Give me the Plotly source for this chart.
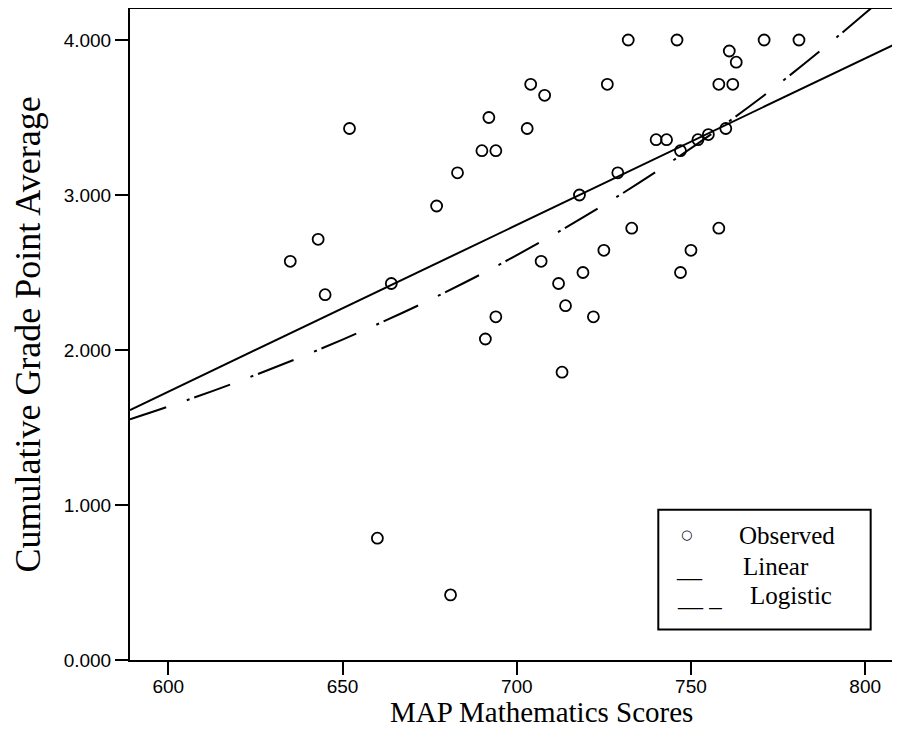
import plotly.graph_objects as go

map_scores = [635, 643, 645, 652, 660, 664, 677, 681, 683, 690, 692, 694, 694, 691,
              703, 704, 708, 707, 712, 713, 714, 718, 719, 722, 725, 726, 729, 732,
              733, 740, 743, 746, 747, 747, 750, 752, 755, 758, 758, 760, 761, 762,
              763, 771, 781]
gpa = [2.572, 2.714, 2.357, 3.429, 0.786, 2.429, 2.929, 0.420, 3.143, 3.286, 3.500,
       3.286, 2.214, 2.071, 3.429, 3.714, 3.643, 2.572, 2.429, 1.857, 2.286, 3.000,
       2.500, 2.214, 2.643, 3.714, 3.143, 4.000, 2.786, 3.357, 3.357, 4.000, 3.286,
       2.500, 2.643, 3.357, 3.390, 3.714, 2.786, 3.429, 3.929, 3.714, 3.857, 4.000,
       4.000]

# Fitted curves, values
linear_x = [589, 810]
linear_y = [1.613, 3.989]
logistic_x = [589, 600, 620, 650, 680, 710, 740, 770, 800, 810]
logistic_y = [1.553, 1.635, 1.796, 2.067, 2.378, 2.737, 3.150, 3.626, 4.172, 4.373]

x_ticks = [600, 650, 700, 750, 800]
y_ticks = [0, 1, 2, 3, 4]

fig = go.Figure()
fig.add_trace(go.Scatter(
    x=map_scores, y=gpa, mode="markers", name="Observed",
    marker=dict(symbol="circle-open", size=11, color="black",
                line=dict(width=1.8, color="black"))))
fig.add_trace(go.Scatter(
    x=linear_x, y=linear_y, mode="lines", name="Linear",
    line=dict(color="black", width=2)))
fig.add_trace(go.Scatter(
    x=logistic_x, y=logistic_y, mode="lines", name="Logistic",
    line=dict(color="black", width=2, dash="38px,22px,3px,5px", shape="spline")))

serif = "Liberation Serif, Times New Roman, serif"
sans = "Liberation Sans, Arial, sans-serif"

# page body adds an 8px offset; the figure is sized to fill the window
fig.update_layout(
    width=892, height=737,
    margin=dict(l=122, r=0, t=1, b=85),
    paper_bgcolor="white", plot_bgcolor="white",
    showlegend=False,
    xaxis=dict(
        range=[589, 810], tickvals=x_ticks, ticks="outside", ticklen=13,
        tickwidth=2, tickcolor="black", showgrid=False, zeroline=False,
        showline=True, linecolor="black", linewidth=2, mirror=True,
        automargin=False, ticklabelstandoff=-5,
        tickfont=dict(family=sans, size=19, color="black"),
    ),
    yaxis=dict(
        range=[0, 4.2], tickvals=y_ticks, tickformat=".3f", ticks="outside", ticklen=13,
        tickwidth=2, tickcolor="black", showgrid=False, zeroline=False,
        showline=True, linecolor="black", linewidth=2,
        automargin=False,
        tickfont=dict(family=sans, size=19, color="black"),
        title=dict(text="Cumulative Grade Point Average", font=dict(family=serif, size=36, color="black"),
                   standoff=18),
    ),
)

# x-axis title, placed as in the reference (slightly right of centre)
fig.add_annotation(xref="paper", yref="paper", x=0.5338, y=-0.0799,
                   text="MAP Mathematics Scores", showarrow=False,
                   xanchor="center", yanchor="middle",
                   font=dict(family=serif, size=29, color="black"))

# Legend drawn as in the reference: boxed, text-style symbols
fig.add_shape(type="rect", xref="paper", yref="paper",
              x0=0.6861, x1=0.9619, y0=0.0470, y1=0.2308,
              line=dict(color="black", width=2), fillcolor="white", layer="above")
leg_font = dict(family=serif, size=25, color="black")
fig.add_annotation(xref="paper", yref="paper", x=0.7230, y=0.1924, text="○",
                   showarrow=False, xanchor="center", yanchor="middle",
                   font=dict(family="DejaVu Sans", size=13, color="black"))
fig.add_annotation(xref="paper", yref="paper", x=0.7887, y=0.1914, text="Observed",
                   showarrow=False, xanchor="left", yanchor="middle", font=leg_font)
fig.add_annotation(xref="paper", yref="paper", x=0.7065, y=0.140, text="__",
                   showarrow=False, xanchor="left", yanchor="middle", font=leg_font)
fig.add_annotation(xref="paper", yref="paper", x=0.7930, y=0.144, text="Linear",
                   showarrow=False, xanchor="left", yanchor="middle", font=leg_font)
fig.add_annotation(xref="paper", yref="paper", x=0.7078, y=0.0957, text="__ _",
                   showarrow=False, xanchor="left", yanchor="middle", font=leg_font)
fig.add_annotation(xref="paper", yref="paper", x=0.8026, y=0.0995, text="Logistic",
                   showarrow=False, xanchor="left", yanchor="middle", font=leg_font)

fig.write_html("out.html")
